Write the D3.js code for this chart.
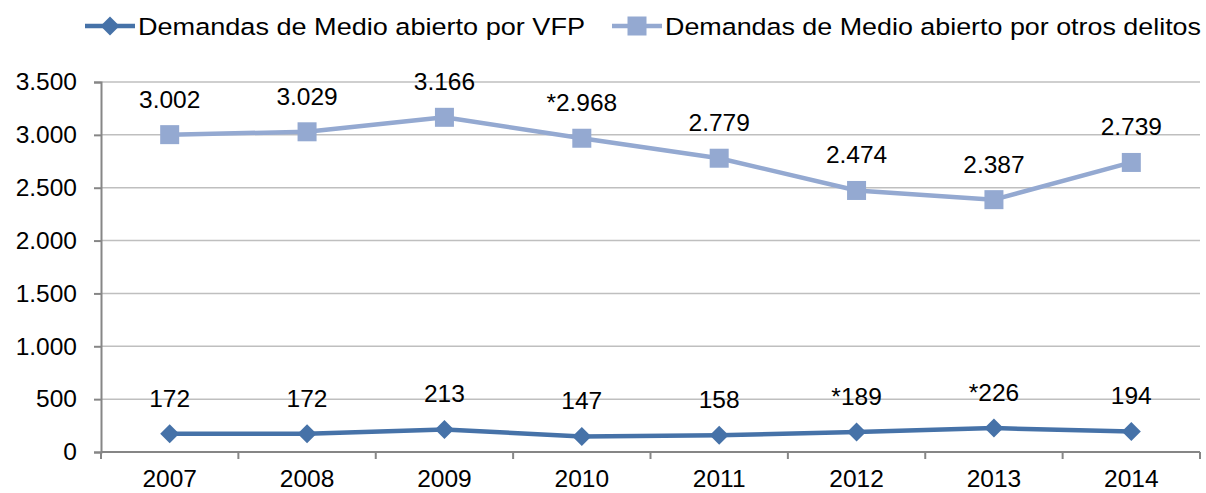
<!DOCTYPE html>
<html>
<head>
<meta charset="utf-8">
<script src="https://cdn.jsdelivr.net/npm/d3@7"></script>
<style>
  html, body { margin: 0; padding: 0; background: #fff; }
  text { font-family: "Liberation Sans", Arial, sans-serif; fill: #000; }
</style>
</head>
<body>
<svg id="chart" width="1206" height="493"></svg>
<script>
// Demandas de medio abierto, 2007–2014
const years = ["2007", "2008", "2009", "2010", "2011", "2012", "2013", "2014"];
const vfpValues = [172, 172, 213, 147, 158, 189, 226, 194];
const vfpLabels = ["172", "172", "213", "147", "158", "*189", "*226", "194"];
const otrosValues = [3002, 3029, 3166, 2968, 2779, 2474, 2387, 2739];
const otrosLabels = ["3.002", "3.029", "3.166", "*2.968", "2.779", "2.474", "2.387", "2.739"];
const yTicks = [0, 500, 1000, 1500, 2000, 2500, 3000, 3500];
const seriesNames = ["Demandas de Medio abierto por VFP", "Demandas de Medio abierto por otros delitos"];

const colDark = "#4672A8";
const colLight = "#94A9D1";
const fontSize = 24.5;

const svg = d3.select("#chart");
const margin = { left: 101, right: 6, top: 82, bottom: 41 };
const W = 1206, H = 493;

const x = d3.scaleBand().domain(years).range([margin.left, W - margin.right]).padding(0);
const y = d3.scaleLinear().domain([0, 3500]).range([H - margin.bottom, margin.top]);
const cx = d => x(d) + x.bandwidth() / 2;
const fmt = v => d3.format(",")(v).replace(/,/g, ".");

// horizontal gridlines
svg.append("g")
  .selectAll("line")
  .data(yTicks.filter(t => t > 0))
  .join("line")
  .attr("x1", margin.left).attr("x2", W - margin.right)
  .attr("y1", d => y(d)).attr("y2", d => y(d))
  .attr("stroke", "#bfbfbf").attr("stroke-width", 1.5);

// y axis
const yAxis = svg.append("g")
  .attr("transform", `translate(${margin.left},0)`)
  .call(d3.axisLeft(y).tickValues(yTicks).tickFormat(fmt).tickSize(7).tickPadding(17));
yAxis.select(".domain").attr("stroke", "#868686").attr("stroke-width", 2);
yAxis.selectAll(".tick line").attr("stroke", "#868686").attr("stroke-width", 2);
yAxis.selectAll(".tick text").style("font-size", fontSize + "px").style("font-family", "Liberation Sans, Arial, sans-serif").attr("fill", "#000");

// x axis with ticks between categories
const xAxisG = svg.append("g").attr("transform", `translate(0,${y(0)})`);
xAxisG.append("line")
  .attr("x1", margin.left).attr("x2", W - margin.right)
  .attr("stroke", "#868686").attr("stroke-width", 2);
const boundaries = years.map(d => x(d)).concat([x(years[years.length - 1]) + x.bandwidth()]);
xAxisG.selectAll("line.tk")
  .data(boundaries)
  .join("line").attr("class", "tk")
  .attr("x1", d => d).attr("x2", d => d)
  .attr("y1", 0).attr("y2", 7)
  .attr("stroke", "#868686").attr("stroke-width", 2);
xAxisG.selectAll("text")
  .data(years)
  .join("text")
  .attr("x", d => cx(d)).attr("y", 35)
  .attr("text-anchor", "middle")
  .style("font-size", fontSize + "px")
  .text(d => d);

const line = d3.line().x((d, i) => cx(years[i])).y(d => y(d));

// series: otros delitos
svg.append("path").datum(otrosValues)
  .attr("d", line).attr("fill", "none")
  .attr("stroke", colLight).attr("stroke-width", 4.5).attr("stroke-linejoin", "round");
svg.append("g").selectAll("rect")
  .data(otrosValues)
  .join("rect")
  .attr("x", (d, i) => cx(years[i]) - 9.5).attr("y", d => y(d) - 9.5)
  .attr("width", 19).attr("height", 19)
  .attr("fill", colLight);

// series: VFP
svg.append("path").datum(vfpValues)
  .attr("d", line).attr("fill", "none")
  .attr("stroke", colDark).attr("stroke-width", 4.5).attr("stroke-linejoin", "round");
const diamond = s => `M0,${-s}L${s},0L0,${s}L${-s},0Z`;
svg.append("g").selectAll("path")
  .data(vfpValues)
  .join("path")
  .attr("transform", (d, i) => `translate(${cx(years[i])},${y(d)})`)
  .attr("d", diamond(9.5))
  .attr("fill", colDark);

// data labels
svg.append("g").selectAll("text")
  .data(otrosValues)
  .join("text")
  .attr("x", (d, i) => cx(years[i])).attr("y", d => y(d) - 27)
  .attr("text-anchor", "middle")
  .style("font-size", fontSize + "px")
  .text((d, i) => otrosLabels[i]);
svg.append("g").selectAll("text")
  .data(vfpValues)
  .join("text")
  .attr("x", (d, i) => cx(years[i])).attr("y", d => y(d) - 27)
  .attr("text-anchor", "middle")
  .style("font-size", fontSize + "px")
  .text((d, i) => vfpLabels[i]);

// legend
const legend = svg.append("g");
const legendItems = [
  { name: seriesNames[0], color: colDark, x0: 85, shape: "diamond", len: 447 },
  { name: seriesNames[1], color: colLight, x0: 612, shape: "square", len: 536 }
];
legendItems.forEach(it => {
  const g = legend.append("g").attr("transform", `translate(${it.x0},26)`);
  g.append("line").attr("x1", 0).attr("x2", 50).attr("y1", 0).attr("y2", 0)
    .attr("stroke", it.color).attr("stroke-width", 4.5);
  if (it.shape === "diamond") {
    g.append("path").attr("transform", "translate(25,0)").attr("d", diamond(9.5)).attr("fill", it.color);
  } else {
    g.append("rect").attr("x", 15.5).attr("y", -9.5).attr("width", 19).attr("height", 19).attr("fill", it.color);
  }
  g.append("text").attr("x", 53).attr("y", 8.5)
    .style("font-size", fontSize + "px")
    .attr("textLength", it.len).attr("lengthAdjust", "spacingAndGlyphs")
    .text(it.name);
});
</script>
</body>
</html>
